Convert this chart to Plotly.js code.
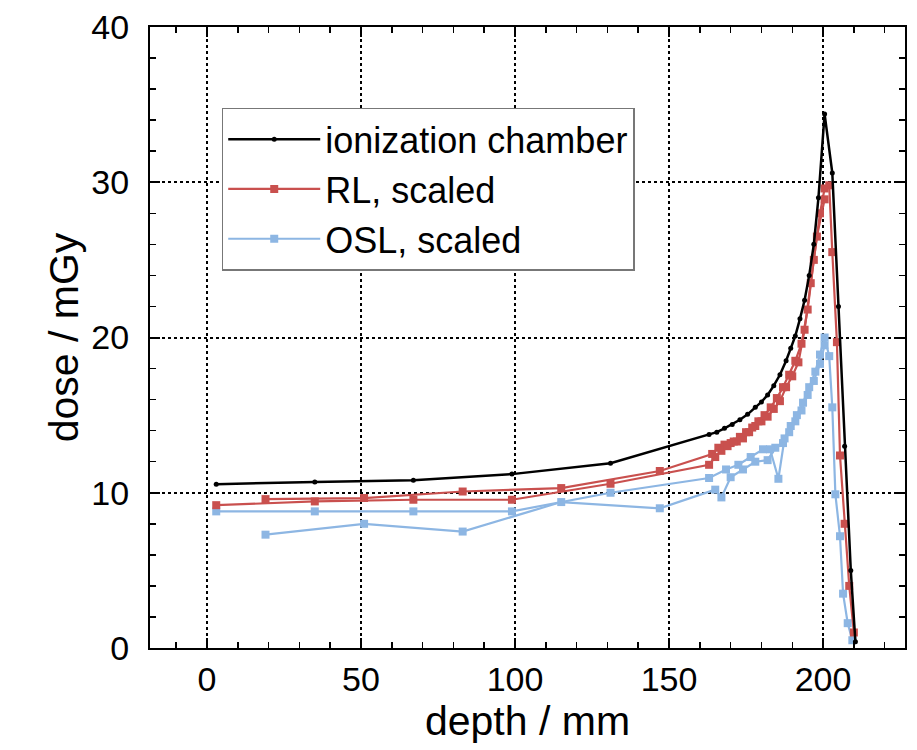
<!DOCTYPE html>
<html>
<head>
<meta charset="utf-8">
<script src="https://cdn.plot.ly/plotly-3.0.1.min.js"></script>
<style>html,body{margin:0;padding:0;background:#fff;}#chart{width:917px;height:750px;}</style>
</head>
<body>
<div id="chart"></div>
<script>
// ionization chamber
const icDepth = [3,35,67,99,131,163,165.5,168,170.5,173,175.5,178,180,182,184,186,188,189.5,191,192.5,194,195.5,197,198.5,200.5,203,205,207,209,210.5];
const icDose  = [10.55,10.7,10.8,11.2,11.9,13.75,13.9,14.15,14.4,14.7,15.05,15.5,15.85,16.3,16.9,17.6,18.5,19.3,20.1,21.2,22.4,24.0,26.0,29.0,34.4,30.6,22,13,5,0.4];

// RL, scaled (two measurement passes)
const rlDepthA = [3,35,67,99,131,163,165,167,169,171,173,175,177,179,181,183,185,187,189,191,193,195,197,199,200.5,202,203,204.5,205.5,207,208.5,210];
const rlDoseA  = [9.2,9.44,9.55,9.55,10.58,11.8,12.3,12.7,13.0,13.3,13.6,13.9,14.2,14.6,15.0,15.5,16.1,16.8,17.6,18.5,19.6,21.8,25.0,28.0,29.6,29.8,25.5,19.7,12.4,8.0,4.0,1.0];
const rlDepthB = [19,51,83,115,147,164,166,168,170,172,174,176,178,180,182,184,186,188,190,192,194,196,198,200.5];
const rlDoseB  = [9.59,9.66,10.08,10.3,11.4,12.5,12.9,13.1,13.2,13.3,13.5,13.9,14.3,14.6,14.9,15.4,15.9,16.8,17.5,18.4,20.5,23.5,26.5,28.9];

// OSL, scaled (two measurement passes)
const oslDepthA = [3,35,67,99,131,163,168.5,172.5,176.5,180.5,182.8,185.5,187.5,189.5,191.5,193.5,195.5,197.5,199,200.5,202,203,204,205.5,206.5,208,209.5];
const oslDoseA  = [8.8,8.8,8.8,8.8,10.0,10.95,11.5,11.8,12.3,12.8,12.8,10.9,13.5,14.3,15.0,15.8,16.8,17.8,18.9,20.0,18.8,15.5,9.9,7.2,3.5,1.6,0.5];
const oslDepthB = [19,51,83,115,147,165,167,170,174,178,182,184.5,187,189,191,193,195,197,199,200.5];
const oslDoseB  = [7.3,8.0,7.5,9.4,9.0,10.2,9.7,11.0,11.5,12.0,12.1,12.9,13.2,13.9,14.6,15.3,16.3,17.2,18.3,19.5];

const RED = '#c9504e', BLUE = '#8db6e3';
const FONT = 'Liberation Sans, Arial, sans-serif';

const traces = [
  {x: oslDepthB, y: oslDoseB, mode:'lines+markers', line:{color:BLUE,width:2.2}, marker:{symbol:'square',size:8,color:BLUE}, showlegend:false, legendgroup:'osl'},
  {x: oslDepthA, y: oslDoseA, mode:'lines+markers', name:'OSL, scaled', line:{color:BLUE,width:2.2}, marker:{symbol:'square',size:8,color:BLUE}, legendgroup:'osl'},
  {x: rlDepthB, y: rlDoseB, mode:'lines+markers', line:{color:RED,width:2.2}, marker:{symbol:'square',size:8,color:RED}, showlegend:false, legendgroup:'rl'},
  {x: rlDepthA, y: rlDoseA, mode:'lines+markers', name:'RL, scaled', line:{color:RED,width:2.2}, marker:{symbol:'square',size:8,color:RED}, legendgroup:'rl'},
  {x: icDepth, y: icDose, mode:'lines+markers', name:'ionization chamber', line:{color:'#000',width:2.5}, marker:{symbol:'circle',size:5,color:'#000'}}
];

const axisCommon = {
  showline:true, linecolor:'#000', linewidth:2, mirror:'allticks',
  ticks:'inside', ticklen:10, tickwidth:2, tickcolor:'#000',
  showgrid:true, gridcolor:'#000', gridwidth:2, griddash:'dot',
  zeroline:false,
  tickfont:{family:FONT, size:34, color:'#000'}
};

const layout = {
  width:917, height:750,
  margin:{l:150, r:12, t:27, b:102},
  paper_bgcolor:'#fff', plot_bgcolor:'#fff',
  font:{family:FONT, color:'#000'},
  xaxis: Object.assign({}, axisCommon, {
    range:[-18.5, 226.6], tickvals:[0,50,100,150,200], ticklabelstandoff:0,
    minor:{dtick:10, tick0:0, ticks:'inside', ticklen:6, tickwidth:1.5, tickcolor:'#000', showgrid:false},
    title:{text:'depth / mm', font:{size:41, family:FONT}, standoff:10}
  }),
  yaxis: Object.assign({}, axisCommon, {
    range:[0,40], tickvals:[0,10,20,30,40], ticklabelstandoff:12,
    minor:{dtick:2, tick0:0, ticks:'inside', ticklen:6, tickwidth:1.5, tickcolor:'#000', showgrid:false},
    title:{text:'dose / mGy', font:{size:41, family:FONT}, standoff:0}
  }),
  legend:{
    x:0.095, y:0.87, xanchor:'left', yanchor:'top',
    bgcolor:'#fff', bordercolor:'#777', borderwidth:1.5,
    font:{size:36, family:FONT, color:'#000'},
    traceorder:'reversed', itemwidth:92
  },
  showlegend:true
};

Plotly.newPlot('chart', traces, layout, {displayModeBar:false, staticPlot:true});
</script>
</body>
</html>
